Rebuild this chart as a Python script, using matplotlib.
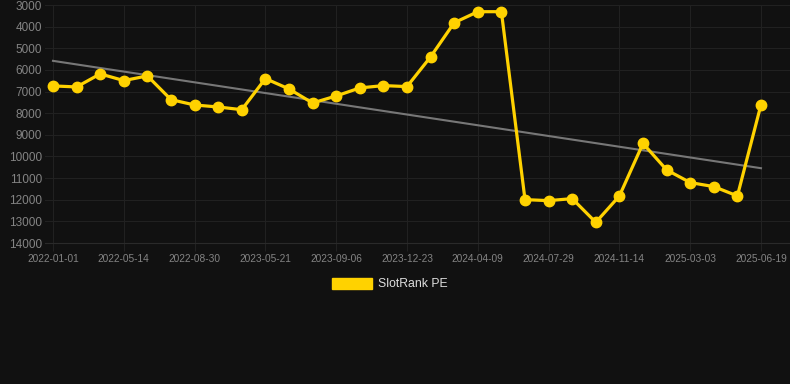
import matplotlib
matplotlib.use("Agg")
import matplotlib.pyplot as plt
import numpy as np
from matplotlib.patches import Patch

plt.rcParams['font.family'] = ['Liberation Sans', 'DejaVu Sans']

dates = ["2022-01-01", "2022-02-06", "2022-03-14", "2022-05-14", "2022-06-19", "2022-07-25",
         "2022-08-30", "2022-10-05", "2022-11-10", "2023-05-21", "2023-06-26", "2023-08-01",
         "2023-09-06", "2023-10-12", "2023-11-17", "2023-12-23", "2024-01-28", "2024-03-04",
         "2024-04-09", "2024-05-15", "2024-06-20", "2024-07-29", "2024-09-03", "2024-10-09",
         "2024-11-14", "2024-12-20", "2025-01-25", "2025-03-03", "2025-04-08", "2025-05-14",
         "2025-06-19"]
values = [6740, 6787, 6184, 6493, 6277, 7374, 7621, 7714, 7838, 6400, 6880, 7529,
          7204, 6833, 6725, 6771, 5396, 3819, 3309, 3309, 11995, 12042, 11949, 13046,
          11825, 9399, 10620, 11207, 11393, 11825, 7606]
trend_start = 5581
trend_end = 10543
y_ticks = list(range(3000, 15000, 1000))
series_label = "SlotRank PE"

bg = "#111111"
fig = plt.figure(figsize=(7.9, 3.84), dpi=100, facecolor=bg)
ax = fig.add_axes([45/790, (384-243)/384, (790-45)/790, (243-5)/384], facecolor=bg)

x = np.arange(len(values))
ax.plot([x[0], x[-1]], [trend_start, trend_end], color="#777777", lw=1.5, zorder=2)
ax.plot(x, values, color="#FFD200", lw=2.3, marker="o", markersize=7.5,
        markerfacecolor="#FFD200", markeredgecolor="#FFD200", zorder=3, label=series_label)

ax.set_ylim(14000, 3000)
ax.set_xlim(-(53-45)/23.6, 30 + 29/23.6)
ax.set_yticks(y_ticks)
ax.set_yticklabels([str(v) for v in y_ticks])
tick_idx = list(range(0, len(dates), 3))
ax.set_xticks(tick_idx)
ax.set_xticklabels([dates[i] for i in tick_idx])

ax.grid(True, color="#212121", lw=0.8)
ax.set_axisbelow(True)
for s in ["top", "right", "left"]:
    ax.spines[s].set_visible(False)
ax.spines["bottom"].set_color("#2a2a2a")
ax.tick_params(axis="y", length=0, pad=2, labelsize=8.5, labelcolor="#848484")
ax.tick_params(axis="x", length=6, color="#212121", pad=2, labelsize=7.3, labelcolor="#848484")

leg = fig.legend(handles=[Patch(facecolor="#FFD200", edgecolor="#FFD200")], labels=[series_label],
                 loc="center", bbox_to_anchor=(0.5 - 5/790, 1 - 284/384), frameon=False,
                 handlelength=3.3, handleheight=1.0, handletextpad=0.5,
                 prop={"size": 8.8})
for t in leg.get_texts():
    t.set_color("#dddddd")

fig.savefig("out.png", dpi=100, facecolor=bg)
